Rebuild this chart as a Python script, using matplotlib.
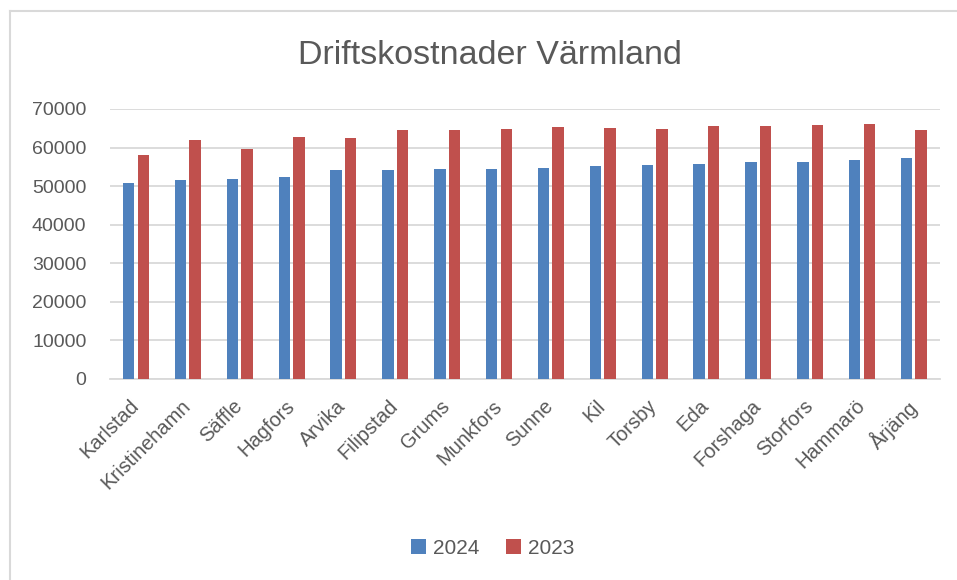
import numpy as np
import matplotlib.pyplot as plt
import matplotlib.transforms as mtransforms
from matplotlib.lines import Line2D

plt.rcParams['font.family'] = ['Liberation Sans', 'DejaVu Sans']

# ---- data ----------------------------------------------------------------
kommuner = ["Karlstad", "Kristinehamn", "Säffle", "Hagfors", "Arvika",
            "Filipstad", "Grums", "Munkfors", "Sunne", "Kil", "Torsby",
            "Eda", "Forshaga", "Storfors", "Hammarö", "Årjäng"]
kost_2024 = [50750, 51500, 51900, 52300, 54200, 54300, 54550, 54550,
             54700, 55250, 55600, 55650, 56200, 56300, 56900, 57200]
kost_2023 = [58000, 61900, 59700, 62750, 62600, 64450, 64650, 64750,
             65250, 65000, 64900, 65600, 65600, 65850, 66200, 64450]
yticks = [0, 10000, 20000, 30000, 40000, 50000, 60000, 70000]

blue = "#4f81bd"
red = "#c0504d"
grey_text = "#595959"

fig = plt.figure(figsize=(9.57, 5.8), dpi=100)
ax = fig.add_axes([0.115, 0.3466, 0.867, 0.4655])

x = np.arange(len(kommuner))
w = 0.22
off = 0.14
ax.bar(x - off, kost_2024, w, color=blue, label="2024", zorder=3)
ax.bar(x + off, kost_2023, w, color=red, label="2023", zorder=3)

ax.set_xlim(-0.5, len(kommuner) - 0.5)
ax.set_ylim(0, 70000)
ax.set_yticks(yticks)
ax.set_yticklabels([str(v) for v in yticks])
ax.grid(axis="y", color="#d9d9d9", linewidth=1.3, zorder=0)
for s in ["top", "right", "left"]:
    ax.spines[s].set_visible(False)
ax.spines["bottom"].set_color("#d9d9d9")
ax.spines["bottom"].set_linewidth(1.3)
ax.tick_params(axis="both", length=0, labelsize=14, colors=grey_text)
ax.tick_params(axis="y", pad=17)
ax.tick_params(axis="x", pad=6)

ax.set_xticks(x)
ax.set_xticklabels(kommuner, rotation=45, ha="right", rotation_mode="anchor",
                   fontsize=14.5)
# nudge the slanted labels a little down-left, as in the Excel original
shift = mtransforms.ScaledTranslation(-7 / 100, -9 / 100, fig.dpi_scale_trans)
for lab in ax.get_xticklabels():
    lab.set_transform(lab.get_transform() + shift)

fig.text(0.512, 0.905, "Driftskostnader Värmland", ha="center", va="center",
         fontsize=24.5, color=grey_text)

leg = fig.legend(loc="center", bbox_to_anchor=(0.515, 0.055), ncol=2,
                 frameon=False, fontsize=15, handlelength=0.7,
                 handleheight=0.7, columnspacing=1.3, handletextpad=0.35)
for t in leg.get_texts():
    t.set_color(grey_text)

# light frame like the Excel chart area
fig.add_artist(Line2D([9.5 / 957, 9.5 / 957], [0, 1 - 10.5 / 580],
                      transform=fig.transFigure, color="#d9d9d9", lw=1.5))
fig.add_artist(Line2D([9.5 / 957, 1], [1 - 10.5 / 580, 1 - 10.5 / 580],
                      transform=fig.transFigure, color="#d9d9d9", lw=1.5))

fig.savefig("out.png", dpi=100)
